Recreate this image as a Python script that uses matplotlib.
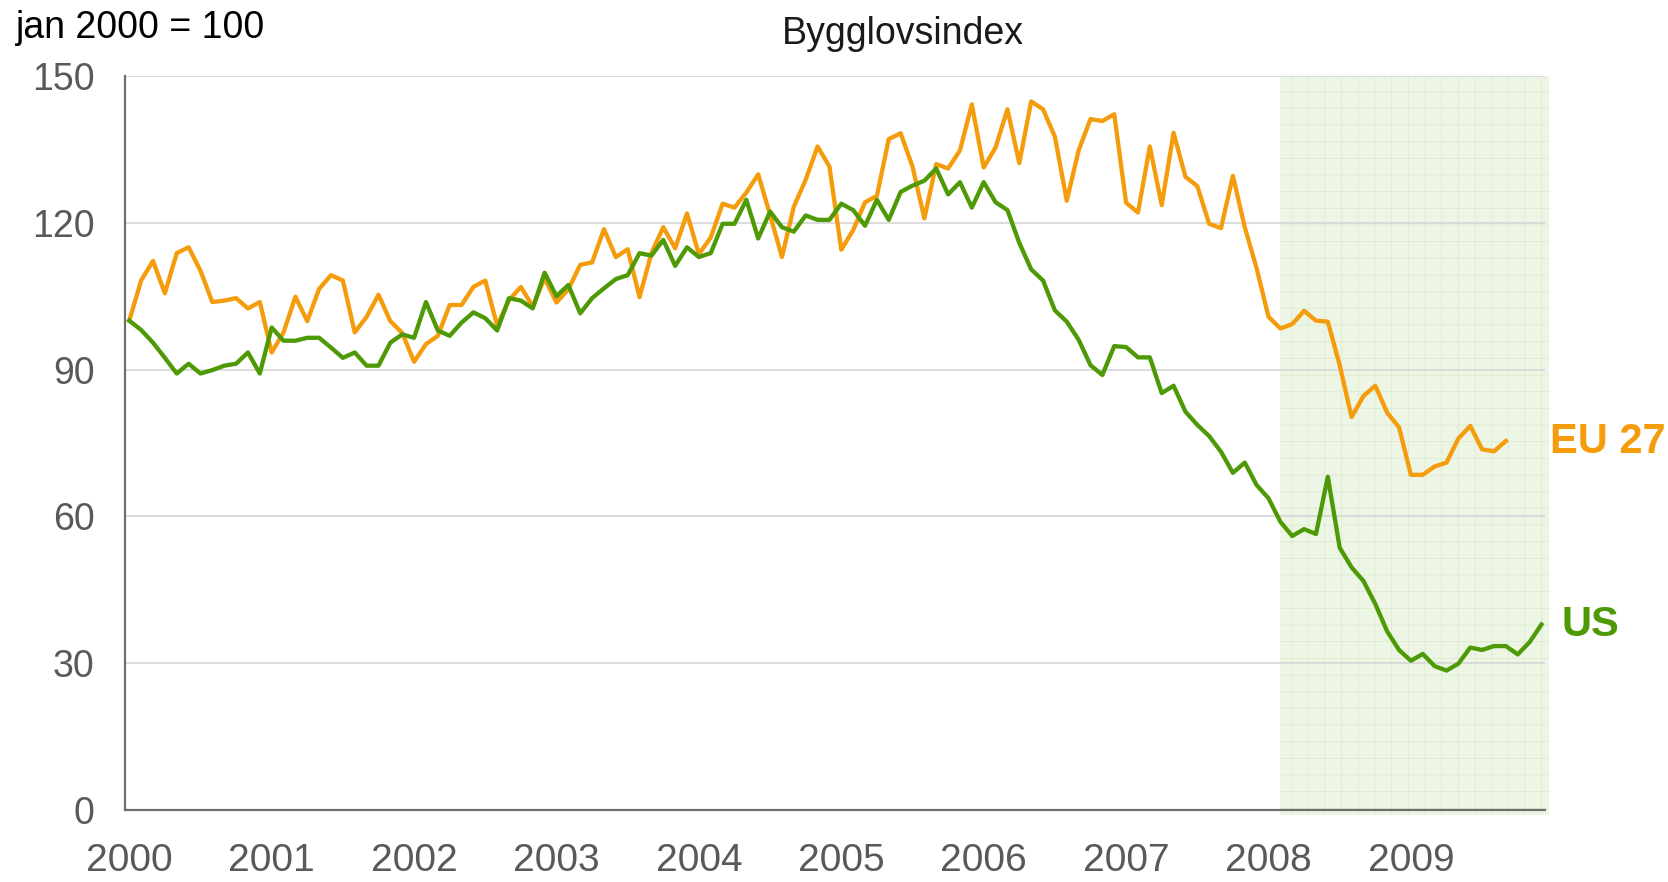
import numpy as np
import matplotlib
matplotlib.use("Agg")
import matplotlib.pyplot as plt

# monthly index, jan 2000 = 100
eu27 = [100, 108.2, 112.2, 105.6, 113.8, 115.0, 110.2, 103.8, 104.1, 104.6, 102.5, 103.8,
        93.5, 97.6, 104.9, 99.9, 106.5, 109.3, 108.2, 97.6, 100.8, 105.3, 99.9, 97.5,
        91.6, 95.2, 96.9, 103.2, 103.2, 106.9, 108.2, 99.0, 104.2, 106.9, 102.9, 108.7,
        103.7, 106.4, 111.4, 111.9, 118.7, 113.0, 114.6, 104.8, 113.8, 119.1, 114.8, 121.9,
        113.6, 117.0, 123.9, 123.1, 126.2, 129.9, 121.6, 113.0, 123.3, 128.8, 135.6, 131.5,
        114.5, 118.5, 124.2, 125.5, 137.1, 138.3, 131.5, 120.9, 132.0, 131.1, 134.8, 144.2,
        131.3, 135.4, 143.2, 132.2, 144.8, 143.2, 137.6, 124.5, 134.8, 141.2, 140.8, 142.2,
        124.1, 122.1, 135.6, 123.6, 138.4, 129.4, 127.5, 119.8, 118.9, 129.6, 119.1, 110.7,
        100.8, 98.4, 99.3, 102.0, 100.0, 99.8, 90.9, 80.3, 84.6, 86.7, 81.2, 78.2,
        68.5, 68.5, 70.2, 71.0, 75.9, 78.5, 73.7, 73.3, 75.4]

us = [100, 98.1, 95.5, 92.4, 89.2, 91.2, 89.2, 89.9, 90.8, 91.2, 93.5, 89.2,
      98.6, 95.9, 95.9, 96.5, 96.5, 94.5, 92.4, 93.5, 90.8, 90.8, 95.5, 97.2,
      96.5, 103.8, 98.0, 96.9, 99.6, 101.7, 100.5, 98.0, 104.6, 104.1, 102.5, 109.8,
      105.0, 107.3, 101.5, 104.6, 106.6, 108.5, 109.3, 113.8, 113.3, 116.5, 111.2, 115.0,
      113.0, 113.8, 119.8, 119.8, 124.7, 116.8, 122.3, 119.1, 118.2, 121.5, 120.6, 120.6,
      123.9, 122.6, 119.4, 124.7, 120.6, 126.3, 127.6, 128.6, 131.1, 125.8, 128.3, 123.1,
      128.3, 124.2, 122.6, 115.9, 110.5, 108.2, 102.1, 99.8, 96.1, 90.9, 88.9, 94.8,
      94.6, 92.5, 92.5, 85.2, 86.7, 81.4, 78.7, 76.4, 73.2, 68.9, 71.0, 66.4,
      63.7, 58.9, 56.0, 57.4, 56.4, 68.1, 53.6, 49.6, 46.8, 42.1, 36.5, 32.7,
      30.5, 31.9, 29.4, 28.5, 29.9, 33.2, 32.7, 33.5, 33.5, 31.8, 34.3, 37.9]

years = ["2000", "2001", "2002", "2003", "2004", "2005", "2006", "2007", "2008", "2009"]
yticks = [0, 30, 60, 90, 120, 150]
shade_from = 97  # month index where the shaded period starts

orange = "#f59c0c"
green = "#4e9a06"

plt.rcParams['font.family'] = ['Liberation Sans', 'DejaVu Sans']
plt.rcParams['hatch.linewidth'] = 0.5

fig = plt.figure(figsize=(16.68, 8.82), dpi=100)
ax = fig.add_axes([125 / 1668, 1 - 810 / 882, 1420 / 1668, 734 / 882])

ax.axvspan(shade_from, 119.6, ymin=-0.007, ymax=1.0, facecolor="#edf6e5",
           edgecolor="#d9ebcb", hatch="+", linewidth=0, zorder=0, clip_on=False)

for v in yticks[1:]:
    ax.axhline(v, color="#d6d6d6", lw=1.2, zorder=1)

ax.plot(np.arange(len(eu27)), eu27, color=orange, lw=3.1, zorder=3)
ax.plot(np.arange(len(us)), us, color=green, lw=3.1, zorder=4)

ax.set_xlim(-0.36, 119.3)
ax.set_ylim(0, 150)
ax.set_yticks(yticks)
ax.set_xticks(np.arange(len(years)) * 12)
ax.set_xticklabels(years)
ax.tick_params(axis='y', length=0, pad=22, labelsize=27, labelcolor="#595959")
ax.tick_params(axis='x', length=0, pad=24, labelsize=28, labelcolor="#595959")

for s in ["top", "right"]:
    ax.spines[s].set_visible(False)
for s in ["left", "bottom"]:
    ax.spines[s].set_color("#6e6e6e")
    ax.spines[s].set_linewidth(1.6)

ax.text(119.7, 75.3, "EU 27", color=orange, fontsize=30, fontweight="bold",
        va="center", ha="left", clip_on=False)
ax.text(120.7, 37.9, "US", color=green, fontsize=30, fontweight="bold",
        va="center", ha="left", clip_on=False)

fig.text(16 / 1668, 1 - 28 / 882, "jan 2000 = 100", fontsize=27, color="black",
         va="center", ha="left")
fig.text(903 / 1668, 1 - 34 / 882, "Bygglovsindex", fontsize=27, color="#1a1a1a",
         va="center", ha="center")

plt.savefig("out.png", dpi=100)
